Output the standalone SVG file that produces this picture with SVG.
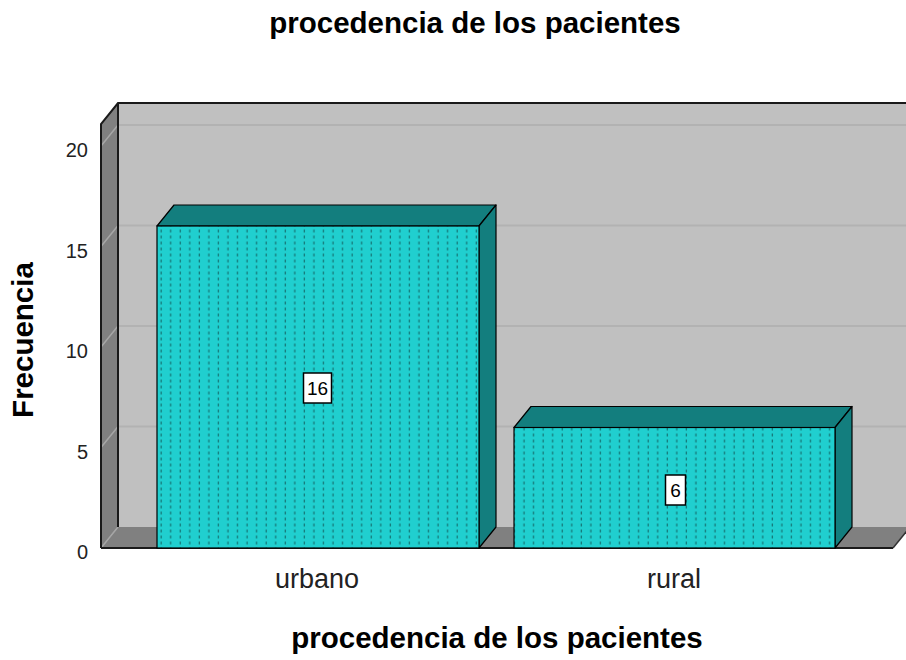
<svg xmlns="http://www.w3.org/2000/svg" width="906" height="660" viewBox="0 0 906 660">
<style>
.title{font-family:"Liberation Sans",Arial,sans-serif;font-weight:bold;font-size:29.5px;fill:#000;text-anchor:middle}
.tick{font-family:"Liberation Sans",Arial,sans-serif;font-size:20px;fill:#222;text-anchor:end}
.cat{font-family:"Liberation Sans",Arial,sans-serif;font-size:27px;fill:#222;text-anchor:middle}
.val{font-family:"Liberation Sans",Arial,sans-serif;font-size:19px;fill:#000;text-anchor:middle}
.grid{stroke:#b2b2b2;stroke-width:2}
.sgrid{stroke:#a6a6a6;stroke-width:1.5}
.front{fill:url(#dots);stroke:#000;stroke-width:1.2}
.dark{fill:#137e7e;stroke:#000;stroke-width:1.2;stroke-linejoin:round}
.box{fill:#fff;stroke:#000;stroke-width:1.5}
</style>
<defs>
<pattern id="dots" patternUnits="userSpaceOnUse" x="157" y="0" width="9.55" height="6">
<rect width="9.55" height="6" fill="#20cfcf"/>
<rect x="3.5" y="1.5" width="1.3" height="3" fill="#167b7b"/>
</pattern>
</defs>
<rect width="906" height="660" fill="#fff"/>
<text class="title" x="475" y="33">procedencia de los pacientes</text>
<g id="plot">
<rect x="118" y="103" width="790" height="424" fill="#c0c0c0"/>
<g id="gridlines">
<line class="grid" x1="118" y1="125" x2="906" y2="125"/>
<line class="grid" x1="118" y1="225.5" x2="906" y2="225.5"/>
<line class="grid" x1="118" y1="326" x2="906" y2="326"/>
<line class="grid" x1="118" y1="426.5" x2="906" y2="426.5"/>
</g>
<polygon points="101,124 118,103 118,527 101,548" fill="#808080"/>
<polygon points="101,548 118,527 910,527 893,548" fill="#808080"/>
<g id="sidegrid">
<line class="sgrid" x1="101" y1="146" x2="118" y2="125"/>
<line class="sgrid" x1="101" y1="246.5" x2="118" y2="225.5"/>
<line class="sgrid" x1="101" y1="347" x2="118" y2="326"/>
<line class="sgrid" x1="101" y1="447.5" x2="118" y2="426.5"/>
<line class="sgrid" x1="101" y1="548" x2="118" y2="527"/>
</g>
<polyline points="101,548 101,124 118,103 906,103" fill="none" stroke="#1a1a1a" stroke-width="2"/>
<line x1="118" y1="103" x2="118" y2="527" stroke="#1a1a1a" stroke-width="2"/>
<line x1="101" y1="548" x2="893" y2="548" stroke="#1a1a1a" stroke-width="2"/>
<line x1="893" y1="548" x2="910" y2="527" stroke="#333" stroke-width="1.5"/>
</g>
<g id="bar-urbano">
<polygon class="dark" points="157,226 174,205 496,205 479,226"/>
<polygon class="dark" points="479,226 496,205 496,527 479,548"/>
<rect class="front" x="157" y="226" width="322" height="322"/>
<rect class="box" x="303.5" y="373" width="28" height="30"/>
<text class="val" x="317.5" y="395">16</text>
</g>
<g id="bar-rural">
<polygon class="dark" points="514,427.5 531,406.5 852,406.5 835,427.5"/>
<polygon class="dark" points="835,427.5 852,406.5 852,527 835,548"/>
<rect class="front" x="514" y="427.5" width="321" height="120.5"/>
<rect class="box" x="665.5" y="475" width="20" height="30"/>
<text class="val" x="675.5" y="497">6</text>
</g>
<g id="yaxis">
<text class="tick" x="88" y="157">20</text>
<text class="tick" x="88" y="258">15</text>
<text class="tick" x="88" y="358">10</text>
<text class="tick" x="88" y="459">5</text>
<text class="tick" x="88" y="559">0</text>
<text class="title" transform="translate(33,340) rotate(-90)">Frecuencia</text>
</g>
<g id="xaxis">
<text class="cat" x="317" y="588">urbano</text>
<text class="cat" x="674" y="588">rural</text>
<text class="title" x="497" y="648">procedencia de los pacientes</text>
</g>
</svg>
